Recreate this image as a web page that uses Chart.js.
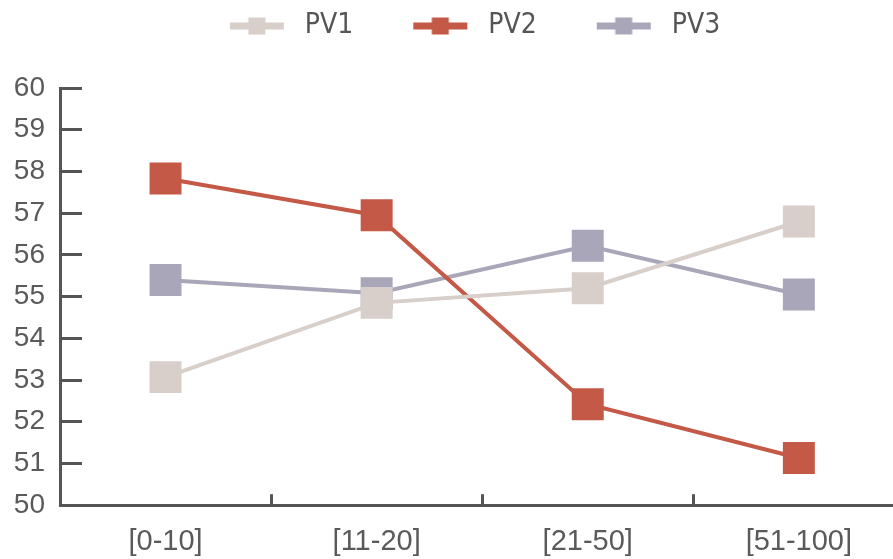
<!DOCTYPE html>
<html>
<head>
<meta charset="utf-8">
<script src="https://cdn.jsdelivr.net/npm/chart.js@4"></script>
<style>
  html, body { margin: 0; padding: 0; background: #fff; overflow: hidden; }
  #wrap { width: 927px; height: 559px; }
</style>
</head>
<body>
<div id="wrap"><canvas id="c" width="927" height="559"></canvas></div>
<script>
// ---- data ----
const categories = ['[0-10]', '[11-20]', '[21-50]', '[51-100]'];
const seriesNames = ['PV1', 'PV2', 'PV3'];
const pv1 = [53.07, 54.85, 55.2, 56.8];
const pv2 = [57.83, 56.95, 52.42, 51.13];
const pv3 = [55.4, 55.08, 56.22, 55.05];
const yTicks = [50, 51, 52, 53, 54, 55, 56, 57, 58, 59, 60];

// ---- styles ----
const colors = ['#d8ceca', '#c35946', '#a9a6b9'];
const axisColor = '#555555';
const textColor = '#5a5a5a';

function legendIcon(color) {
  const cv = document.createElement('canvas');
  cv.width = 74; cv.height = 18;
  const g = cv.getContext('2d');
  g.fillStyle = color;
  g.fillRect(13, 5.5, 54, 7);
  g.fillRect(31.5, 0.5, 17, 17);
  return cv;
}
const icons = colors.map(legendIcon);

const values = [pv1, pv2, pv3];
const datasets = seriesNames.map((name, i) => ({
  label: name,
  data: values[i],
  borderColor: colors[i],
  backgroundColor: colors[i],
  borderWidth: 4,
  pointStyle: 'rect',
  pointRadius: 22.6,
  pointHoverRadius: 22.6,
  pointBorderWidth: 0,
  pointBackgroundColor: colors[i],
  tension: 0
}));

new Chart(document.getElementById('c'), {
  type: 'line',
  data: { labels: categories, datasets },
  options: {
    responsive: false,
    animation: false,
    devicePixelRatio: 1,
    layout: { padding: { left: 10, top: -35, right: 0, bottom: 0 } },
    plugins: {
      tooltip: { enabled: false },
      title: {
        display: true,
        text: ' ',
        position: 'top',
        weight: 500,
        padding: 0,
        font: { size: 20, lineHeight: 1.9 }
      },
      legend: {
        position: 'top',
        weight: 1000,
        labels: {
          usePointStyle: true,
          pointStyleWidth: 74,
          padding: 47,
          color: '#555555',
          font: { family: '"DejaVu Sans Condensed", "DejaVu Sans", sans-serif', size: 28 },
          generateLabels(chart) {
            const items = Chart.defaults.plugins.legend.labels.generateLabels(chart);
            return items.map((it, i) => Object.assign(it, { pointStyle: icons[i] }));
          }
        }
      }
    },
    scales: {
      x: {
        type: 'category',
        offset: true,
        grid: {
          offset: true,
          drawOnChartArea: false,
          drawTicks: true,
          tickLength: -11,
          tickWidth: 3,
          tickColor: axisColor
        },
        border: { display: true, color: axisColor, width: 3 },
        ticks: {
          color: textColor,
          padding: 30,
          font: { family: '"Liberation Sans", Arial, sans-serif', size: 29 },
          maxRotation: 0
        },
        afterFit(scale) { scale.height = 53; }
      },
      y: {
        type: 'linear',
        min: 50,
        max: 60,
        afterBuildTicks(scale) { scale.ticks = yTicks.map(v => ({ value: v })); },
        grid: {
          drawOnChartArea: false,
          drawTicks: true,
          tickLength: -22,
          tickWidth: 3,
          tickColor: axisColor
        },
        border: { display: true, color: axisColor, width: 3 },
        ticks: {
          color: textColor,
          padding: 37,
          font: { family: '"Liberation Sans", Arial, sans-serif', size: 28 }
        },
        afterFit(scale) { scale.width = 50; }
      }
    }
  }
});
</script>
</body>
</html>
